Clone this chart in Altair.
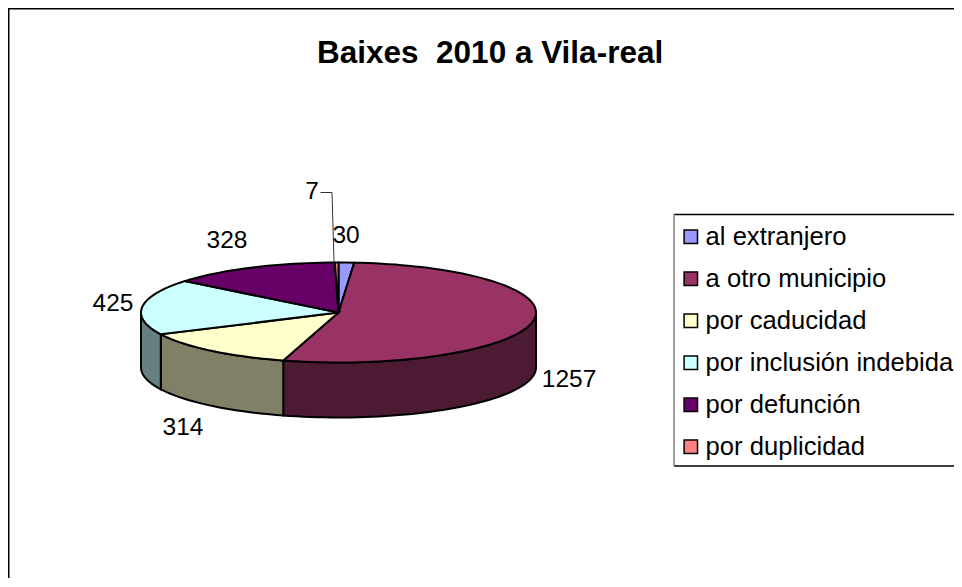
import math
import altair as alt

categories = ["al extranjero", "a otro municipio", "por caducidad",
              "por inclusión indebida", "por defunción", "por duplicidad"]
values = [30, 1257, 314, 425, 328, 7]
top_colors = ["#9999FF", "#993366", "#FFFFCC", "#CCFFFF", "#660066", "#FF8080"]
side_colors = ["#4D1A33", "#4D1A33", "#808066", "#668080", "#330033", "#804040"]
title_text = "Baixes \u00a02010 a Vila-real"
label_x = [338, 561, 175, 105, 219, 304]
label_y = [228, 372, 420, 296, 233, 184]

W, H = 946, 570
RX, CX, CY = 197.5, 330.5, 304.5
TILT = 50.0 / RX
DEPTH = 55.0 / RX
FONT = "Liberation Sans"


def pt(deg, drop=0.0):
    a = math.radians(deg)
    return [math.sin(a), -math.cos(a) * TILT + drop]


def arc(a, b):
    n = max(2, int(abs(b - a) / 2) + 1)
    return [a + (b - a) * i / (n - 1) for i in range(n)]


total = sum(values)
tops, sides = [], []
cum = 0.0
for name, v, sc in zip(categories, values, side_colors):
    a, b = cum / total * 360, (cum + v) / total * 360
    cum += v
    ring = [[0.0, 0.0]] + [pt(t) for t in arc(a, b)] + [[0.0, 0.0]]
    tops.append({"type": "Feature", "properties": {"cat": name},
                 "geometry": {"type": "Polygon", "coordinates": [ring]}})
    s, e = max(a, 90), min(b, 270)
    if s < e:
        span = arc(s, e)
        wall = [pt(t) for t in span] + [pt(t, DEPTH) for t in reversed(span)]
        wall.append(wall[0])
        sides.append({"type": "Feature", "properties": {"col": sc},
                      "geometry": {"type": "Polygon", "coordinates": [wall]}})


def geo(features):
    return alt.InlineData(values={"type": "FeatureCollection", "features": features},
                          format=alt.DataFormat(type="json", property="features"))


side_layer = alt.Chart(geo(sides)).mark_geoshape(stroke="black", strokeWidth=2).encode(
    fill=alt.Fill("properties.col:N", scale=None), tooltip=alt.value(None)
).project(type="identity", scale=RX, translate=[CX, CY])

top_layer = alt.Chart(geo(tops)).mark_geoshape(stroke="black", strokeWidth=2).encode(
    fill=alt.Fill("properties.cat:N",
                  scale=alt.Scale(domain=categories, range=top_colors),
                  legend=alt.Legend(
                      title=None, orient="none", legendX=670, legendY=216,
                      symbolType="square", symbolSize=180, symbolStrokeColor="black",
                      symbolStrokeWidth=1.5, labelFont=FONT, labelFontSize=25.6,
                      labelColor="black", labelLimit=400, rowPadding=15,
                      padding=0, values=categories,
                      symbolOffset=0, labelOffset=2))
).project(type="identity", scale=RX, translate=[CX, CY])

leader = alt.Chart(geo([{"type": "Feature", "properties": {},
                         "geometry": {"type": "LineString",
                                      "coordinates": [[(312.5 - CX) / RX, (184.5 - CY) / RX],
                                                      [(324 - CX) / RX, (184.5 - CY) / RX],
                                                      [(326 - CX) / RX, (253 - CY) / RX]]}}])
                   ).mark_geoshape(filled=False, stroke="#333333", strokeWidth=1
                   ).project(type="identity", scale=RX, translate=[CX, CY])

rows = [{"v": str(v), "x": x, "y": y} for v, x, y in zip(values, label_x, label_y)]
labels = alt.Chart(alt.Data(values=rows)).mark_text(
    font=FONT, fontSize=24.5, color="black", align="center", baseline="middle"
).encode(
    x=alt.X("x:Q", scale=alt.Scale(domain=[0, W], range=[0, W]), axis=None),
    y=alt.Y("y:Q", scale=alt.Scale(domain=[0, H], range=[0, H]), axis=None),
    text="v:N",
)


def vrule(x, y0, y1, color, width):
    return alt.Chart(alt.Data(values=[{"a": 1}])).mark_rule(color=color, strokeWidth=width).encode(
        x=alt.value(x), y=alt.value(y0), y2=alt.value(y1))


def hrule(y, x0, x1, color, width):
    return alt.Chart(alt.Data(values=[{"a": 1}])).mark_rule(color=color, strokeWidth=width).encode(
        y=alt.value(y), x=alt.value(x0), x2=alt.value(x1))


frame = [vrule(0.5, 0, H, "black", 2), hrule(0.5, 0, W, "black", 2)]
box = [hrule(206.5, 666, W, "black", 1.5), hrule(458, 666, W, "black", 1.5),
       vrule(666, 206, 458, "#808080", 1.5)]

chart = alt.layer(*frame, *box, side_layer, top_layer, leader, labels).properties(
    width=W, height=H, padding=0, autosize=alt.AutoSizeParams(type="none"),
    title=alt.TitleParams(title_text, font=FONT, fontSize=31.5, fontWeight="bold", color="black",
                          anchor="start", frame="group", dx=309, dy=91, baseline="alphabetic"),
).configure_view(stroke=None)

chart.save("out.html", embed_options={"renderer": "svg", "actions": False})
